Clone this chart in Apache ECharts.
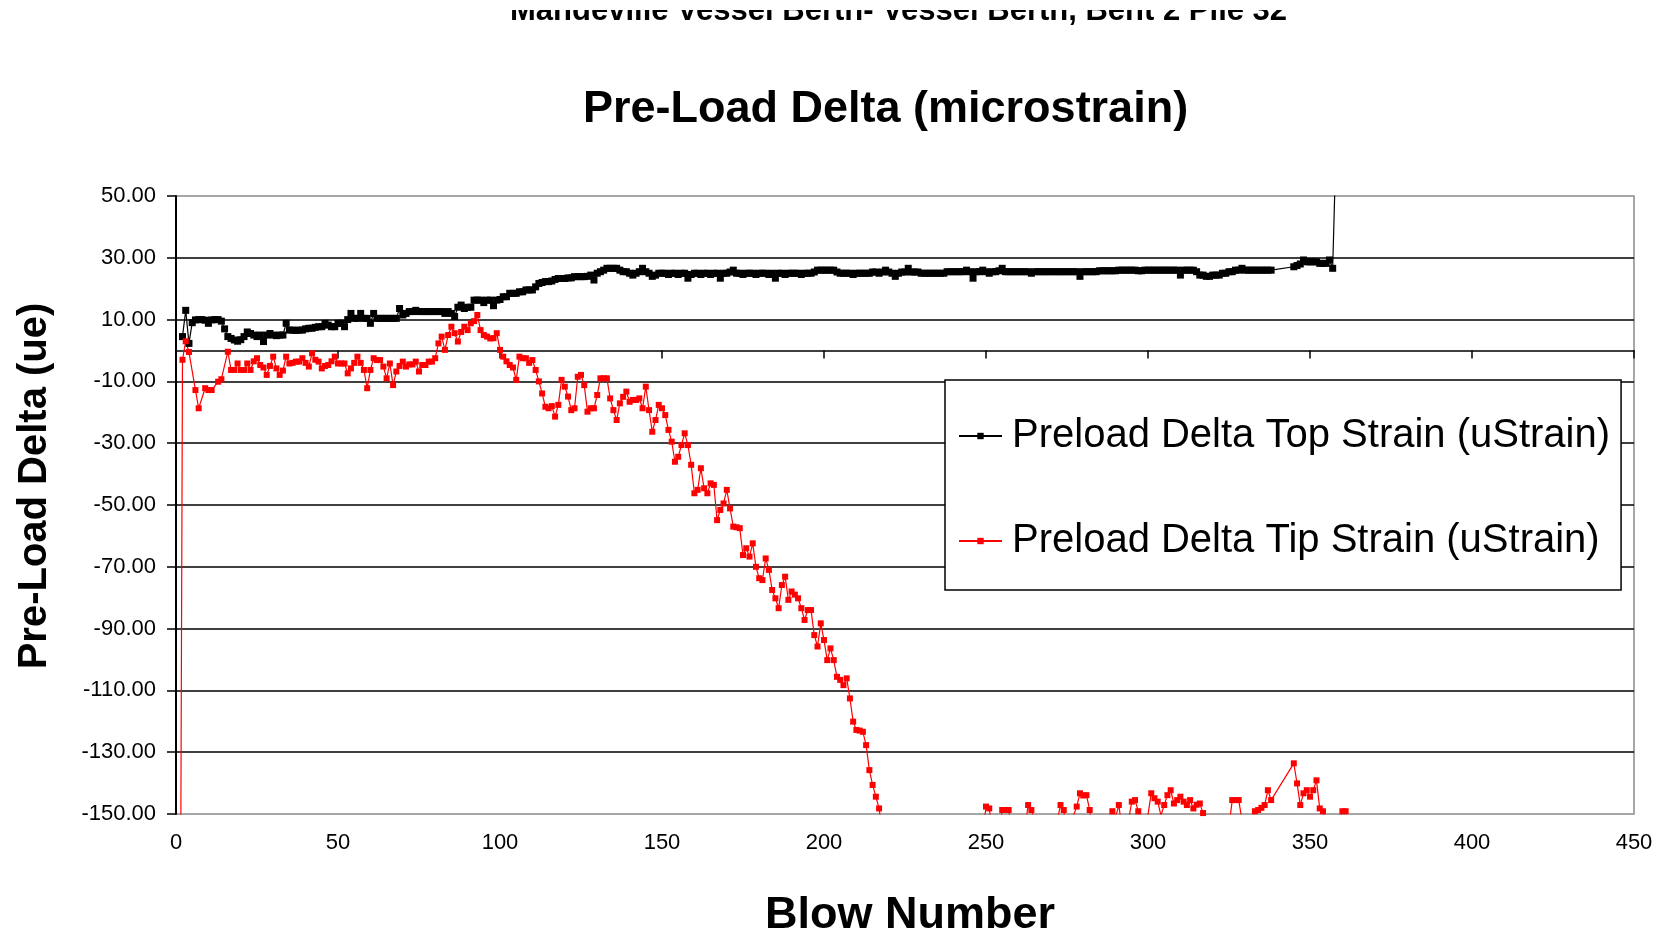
<!DOCTYPE html>
<html>
<head>
<meta charset="utf-8">
<title>Pre-Load Delta (microstrain)</title>
<script src="https://cdn.jsdelivr.net/npm/echarts@6/dist/echarts.min.js"></script>
<style>
  html, body { margin: 0; padding: 0; background: #ffffff; }
  #chart { width: 1669px; height: 931px; }
</style>
</head>
<body>
<div id="chart"></div>
<script>
// Axis ranges and tick steps
const xRange = { min: 0, max: 450, step: 50 };
const yRange = { min: -150, max: 50, step: 20 };

// Series names
const seriesNames = ['Preload Delta Top Strain (uStrain)', 'Preload Delta Tip Strain (uStrain)'];

// Top gauge pre-load delta, one value per blow starting at blow 1 (null = no reading)
const topStrain = [
  null, 4.5, 13, 2.3, 9, 9.9, 10, 10, 9.8, 8.8,
  9.9, 10, 10, 9.5, 7, 4.5, 3.9, 3.4, 3, 3.5,
  4.5, 6, 5.5, 5, 4.5, 5, 2.9, 5, 5.5, 5,
  4.8, 5, 5, 8.8, 6.6, 6.6, 6.5, 6.6, 6.6, 7,
  7.2, 7.2, 7.5, 7.7, 7.7, 8.8, 8.2, 7.7, 7.7, 8.8,
  8.8, 7.7, 10, 12, 10.4, 10.4, 12, 10.4, 10.4, 8.8,
  12, 10.4, 10.4, 10.4, 10.4, 10.4, 10.4, 10.4, 13.6, 11.5,
  12, 12.6, 12.6, 13, 12.6, 12.6, 12.6, 12.6, 12.6, 12.6,
  12.6, 12.6, 12, 12.6, 12, 11, 14, 14.7, 13.6, 14,
  14, 16.3, 16.3, 16.3, 15.5, 16.3, 16.3, 14.5, 16.3, 16.5,
  17.4, 17.4, 18.5, 18.5, 18.5, 19, 19, 19.6, 19.6, 19.6,
  20.6, 21.7, 22, 22.3, 22.3, 22.5, 23, 23.3, 23.3, 23.3,
  23.5, 23.5, 23.9, 23.9, 23.9, 23.9, 24, 24.4, 22.8, 25,
  25.5, 26, 26.6, 26.6, 26.6, 26.6, 26, 25.5, 25.5, 25,
  24.4, 25, 25.5, 26.6, 25.5, 25, 24, 24.4, 25, 25,
  25, 24.6, 25, 25, 24.6, 25, 25, 23.4, 24.6, 25,
  25, 24.6, 25, 25, 24.6, 25, 25, 23.4, 25, 25,
  25.4, 26, 25, 25, 24.6, 25, 25, 25, 24.6, 25,
  25, 25, 24.6, 25, 23.4, 25, 25, 24.6, 25, 25,
  25, 25, 24.6, 25, 25, 25, 25.4, 26, 26, 26,
  26, 26, 26, 25.4, 25, 25, 25, 25, 24.6, 25,
  25, 25, 25, 25, 25.4, 25.4, 25, 25.4, 26, 25.4,
  25, 24, 25, 25.4, 25.4, 26.6, 25.4, 25.4, 25.4, 25,
  25, 25, 25, 25, 25, 25, 25, 25.5, 25.5, 25.5,
  25.5, 25.5, 25.5, 26, 25.5, 23.4, 25.5, 25.5, 26, 25.5,
  25, 25.5, 25.5, 25.8, 26.6, 25.5, 25.5, 25.5, 25.5, 25.5,
  25.5, 25.5, 25.5, 25, 25.5, 25.5, 25.5, 25.5, 25.5, 25.5,
  25.5, 25.5, 25.5, 25.5, 25.5, 25.5, 25.5, 25.5, 24, 25.5,
  25.5, 25.5, 25.5, 25.5, 25.8, 25.8, 25.8, 25.8, 25.8, 25.8,
  26, 26, 26, 26, 26, 26, 25.8, 25.8, 26, 26,
  26, 26, 26, 26, 26, 26, 26, 26, 26, 24.4,
  26, 26, 26, 26, 25.5, 24.4, 24.4, 24, 24, 24.4,
  24.4, 24.4, 25, 25, 25.5, 25.5, 26, 26, 26.6, 26,
  26, 26, 26, 26, 26, 26, 26, 26, null, null,
  null, null, null, null, 27.1, 27.5, 28, 29.3, 28.7, 28.7,
  28.7, 28.7, 28.2, 28.2, 28.2, 29.3, 26.6, 65
];

// Tip gauge pre-load delta, one value per blow starting at blow 1 (null = no reading)
const tipStrain = [
  -300, -3, 3, -0.5, null, -12.8, -18.7, null, -12.2, -12.8,
  -12.8, null, -10.1, -9.3, null, -0.4, -6.3, -6.3, -4.2, -6.3,
  -6.3, -4.2, -6.3, -3.5, -2.5, -4.7, -5.5, -7.9, -5, -2,
  -5.8, -7.9, -6.5, -2, -4.2, -4, -3.6, -3.6, -2.5, -4,
  -5.2, -0.9, -3, -3.6, -5.8, -5, -4.7, -3.5, -2, -4.2,
  -4.2, -4.2, -7.4, -5.8, -4, -2, -4, -6.3, -12.2, -6.3,
  -2.5, -3.1, -3.1, -5.2, -9, -4.2, -11.2, -6.8, -5, -3.6,
  -5.2, -4.5, -4.5, -3.6, -6.8, -4.7, -4.7, -3.6, -3.6, -2.5,
  2.3, 4.5, 0.2, 5, 7.7, 5.6, 2.9, 6, 7.7, 6.6,
  8.8, 9.5, 11.5, 6.6, 5, 4.5, 3.9, 4, 5.6, 0.2,
  -2, -3.5, -4.7, -5.5, -9.5, -2, -2.5, -2.5, -4, -3.1,
  -6.3, -10, -13.9, -18.2, -18.7, -18, -21.4, -17.6, -9.5, -11.7,
  -14.9, -19.3, -18.7, -8.5, -7.9, -11.2, -19.8, -18.7, -18.7, -14.4,
  -9, -9, -9, -15.5, -19.3, -22.5, -17.1, -15, -13.3, -16.6,
  -16, -16, -15.5, -18.7, -11.7, -19.3, -26.3, -22.5, -17.6, -18.7,
  -20.9, -25.7, -29.5, -36, -34.4, -30.6, -26.8, -30.6, -37, -46.2,
  -45.1, -38.1, -44.6, -46.2, -43, -43.5, -54.9, -51.6, -49.5, -45.1,
  -51.1, -57, -57.2, -57.5, -66.2, -64, -66.7, -62.4, -70, -73.7,
  -74.3, -67.3, -71, -77.5, -80.2, -83.4, -75.9, -73.2, -80.7, -78,
  -79, -80.2, -83.4, -87.2, -84, -84, -92.1, -95.8, -88.3, -93.7,
  -100.2, -96.4, -100.2, -105.6, -106.6, -108.3, -106.1, -112.6, -120.1, -122.8,
  -123, -123.4, -127.7, -135.8, -140.6, -144.4, -148.2, -156, -160, -163,
  -161, -165, -168, -166, -170, -168, -171, -169, -172, -170,
  -168, -171, -167, -169, -166, -168, -164, -166, -163, -165,
  -162, -164, -160, -162, -159, -161, -158, -160, -157, -147.6,
  -148.2, -156, -158, -156, -148.7, -148.7, -148.7, -155, -158, -160,
  -158, -155, -147.1, -148.7, -152, -150.5, -154, -151, -156, -158,
  -156, -152, -147.1, -148.7, -156, -155, -150.5, -147.6, -143.3, -144,
  -143.9, -148.7, -156, -158, -160, -158, -157, -155, -149.1, -151,
  -147.1, -155, -157, -152, -146, -145.5, -149.1, -155, -151, -150.2,
  -143.3, -144.9, -146, -150.5, -147.1, -143.9, -142.3, -146.6, -145.5, -144.4,
  -146, -147.1, -145.5, -148.2, -147, -146.6, -149.7, -152, -157, -158,
  -156, -151, -155, -158, -154, -145.5, -145.5, -145.5, -152, -156,
  -155, -152, -149.1, -148.7, -148, -147.1, -142.3, -145.5, null, null,
  null, null, null, null, -133.6, -140.1, -147.1, -143.3, -142.3, -144.4,
  -142.3, -139.1, -148.2, -149.1, -152, -156, -158, -156, -153, -149.1,
  -149.1
];

// Blow numbers: the readings are consecutive blows counted from 1
const FIRST_BLOW = 1;
const toPairs = (values) => values.map((v, i) => [FIRST_BLOW + i, v]);

const FONT = "'Liberation Sans', Arial, Helvetica, sans-serif";

const chart = echarts.init(document.getElementById('chart'), null, { renderer: 'canvas' });

chart.setOption({
  animation: false,
  backgroundColor: '#ffffff',
  textStyle: { fontFamily: FONT, color: '#000' },
  title: [
    {
      text: 'Mandeville Vessel Berth- Vessel Berth, Bent 2 Pile 32',
      left: 510,
      top: -4,
      padding: 0,
      textStyle: { fontFamily: FONT, fontSize: 31, fontWeight: 'bold', color: '#000' }
    },
    {
      text: 'Pre-Load Delta (microstrain)',
      left: 583,
      top: 87,
      padding: 0,
      textStyle: { fontFamily: FONT, fontSize: 45, fontWeight: 'bold', color: '#000' }
    }
  ],
  // page edge above the header line
  graphic: [
    {
      type: 'rect',
      z: 100,
      shape: { x: 0, y: 0, width: 1669, height: 10 },
      style: { fill: '#ffffff' }
    }
  ],
  grid: {
    left: 176,
    right: 35,
    top: 196,
    bottom: 117,
    show: true,
    borderColor: '#8a8a8a',
    borderWidth: 1.5,
    backgroundColor: 'transparent',
    outerBoundsMode: 'none'
  },
  legend: {
    orient: 'vertical',
    left: 945,
    top: 380,
    backgroundColor: '#ffffff',
    borderColor: '#000',
    borderWidth: 1.5,
    borderRadius: 0,
    padding: [36, 11, 29, 13],
    itemWidth: 43,
    itemHeight: 8,
    itemGap: 65,
    selectedMode: false,
    textStyle: { fontFamily: FONT, fontSize: 40, color: '#000', padding: [0, 0, 0, 5] },
    data: seriesNames
  },
  xAxis: {
    type: 'value',
    min: xRange.min,
    max: xRange.max,
    interval: xRange.step,
    position: 'bottom',
    axisLine: { show: true, onZero: true, lineStyle: { color: '#000', width: 1.5 } },
    axisTick: { show: true, length: 8, lineStyle: { color: '#000', width: 1.5 } },
    axisLabel: { fontFamily: FONT, fontSize: 22, color: '#000', margin: 18 },
    splitLine: { show: false },
    name: 'Blow Number',
    nameLocation: 'middle',
    nameGap: 79,
    nameTextStyle: { fontFamily: FONT, fontSize: 45, fontWeight: 'bold', color: '#000', padding: [0, 0, 0, 10] }
  },
  yAxis: {
    type: 'value',
    min: yRange.min,
    max: yRange.max,
    interval: yRange.step,
    axisLine: { show: true, onZero: false, lineStyle: { color: '#000', width: 2 } },
    axisTick: { show: true, length: 9, lineStyle: { color: '#000', width: 1.5 } },
    axisLabel: {
      fontFamily: FONT, fontSize: 22, color: '#000', margin: 20,
      formatter: (v) => v.toFixed(2)
    },
    splitLine: {
      show: true, showMinLine: false, showMaxLine: false,
      lineStyle: { color: '#000', width: 1.5 }
    },
    name: 'Pre-Load Delta (ue)',
    nameLocation: 'middle',
    nameRotate: 90,
    nameGap: 121,
    nameTextStyle: { fontFamily: FONT, fontSize: 40, fontWeight: 'bold', color: '#000', padding: [0, 0, 0, 38] }
  },
  series: [
    {
      name: seriesNames[0],
      type: 'line',
      data: toPairs(topStrain),
      symbol: 'rect',
      symbolSize: 7,
      showSymbol: true,
      showAllSymbol: true,
      connectNulls: true,
      clip: true,
      lineStyle: { color: '#000', width: 1.2 },
      itemStyle: { color: '#000' },
      emphasis: { disabled: true }
    },
    {
      name: seriesNames[1],
      type: 'line',
      data: toPairs(tipStrain),
      symbol: 'rect',
      symbolSize: 6,
      showSymbol: true,
      showAllSymbol: true,
      connectNulls: true,
      clip: true,
      lineStyle: { color: '#ff0000', width: 1.2 },
      itemStyle: { color: '#ff0000' },
      emphasis: { disabled: true }
    }
  ]
});
</script>
</body>
</html>
